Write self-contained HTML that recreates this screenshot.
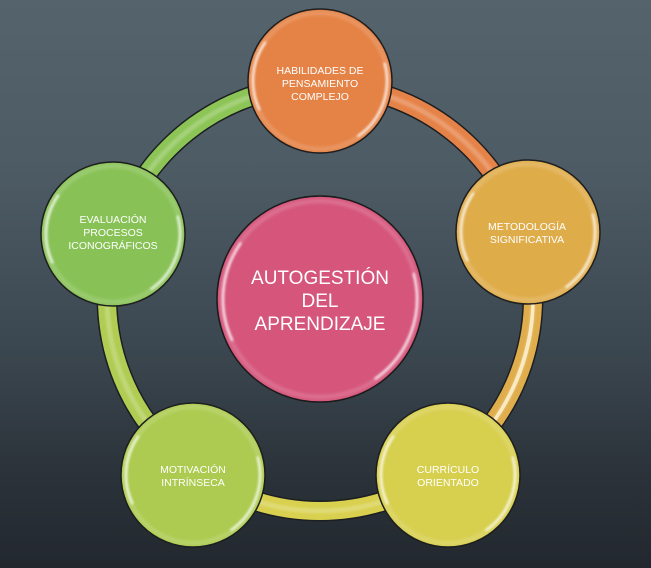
<!DOCTYPE html>
<html><head><meta charset="utf-8"><style>
html,body{margin:0;padding:0;}
body{width:651px;height:568px;overflow:hidden;background:linear-gradient(to bottom,#55636d 0%,#4d5b65 30%,#3c4851 60%,#2a3138 85%,#22282e 100%);}
svg{display:block;}
text{font-family:"Liberation Sans",sans-serif;fill:#fff;text-anchor:middle;}
.s{font-size:10.5px;}
.c{font-size:19px;}
</style></head><body>
<svg width="651" height="568" viewBox="0 0 651 568" xmlns="http://www.w3.org/2000/svg">
<defs>
<filter id="b1" x="-20%" y="-20%" width="140%" height="140%"><feGaussianBlur stdDeviation="1"/></filter>
<filter id="b2" x="-20%" y="-20%" width="140%" height="140%"><feGaussianBlur stdDeviation="1.6"/></filter>
</defs>
<!-- ring outline -->
<g fill="none" stroke="#1c1f22" stroke-width="21">
<circle cx="320" cy="298" r="213"/>
</g>
<!-- ring segments -->
<g fill="none" stroke-width="18">
<path d="M320,85 A213,213 0 0 1 522.6,232.2" stroke="#e58247"/>
<path d="M522.6,232.2 A213,213 0 0 1 445.2,470.3" stroke="#e0ad4c"/>
<path d="M445.2,470.3 A213,213 0 0 1 194.8,470.3" stroke="#d8d04e"/>
<path d="M194.8,470.3 A213,213 0 0 1 117.4,232.2" stroke="#b0cc52"/>
<path d="M117.4,232.2 A213,213 0 0 1 320,85" stroke="#8cc456"/>
</g>
<g fill="none" stroke="#fff" stroke-width="5" opacity="0.22" filter="url(#b1)">
<circle cx="320" cy="298" r="213"/>
</g>
<g fill="none" stroke="#fff6d8" stroke-width="2" opacity="0.8">
<path d="M522.6,232.2 A217,217 0 0 1 445.2,470.3" transform="translate(0,0)"/>
<path d="M522.6,232.2 A209,209 0 0 1 445.2,470.3"/>
</g>
<!-- circles -->
<g stroke="#1a1a1a" stroke-width="1.5">
<circle cx="320" cy="81" r="72" fill="#e58245"/>
<circle cx="528" cy="232" r="72" fill="#dfac4a"/>
<circle cx="448" cy="475" r="72" fill="#d7cf4e"/>
<circle cx="193" cy="475" r="72" fill="#accb50"/>
<circle cx="113" cy="234" r="72" fill="#88c256"/>
<circle cx="320" cy="299" r="103" fill="#d5557b"/>
</g>
<!-- soft rim -->
<g fill="none" stroke="#fff" stroke-width="4" opacity="0.18" filter="url(#b2)">
<circle cx="320" cy="81" r="68"/>
<circle cx="528" cy="232" r="68"/>
<circle cx="448" cy="475" r="68"/>
<circle cx="193" cy="475" r="68"/>
<circle cx="113" cy="234" r="68"/>
<circle cx="320" cy="299" r="98"/>
</g>
<!-- gloss highlights -->
<g fill="none" stroke="#fff" stroke-width="2.5" opacity="0.75" filter="url(#b1)" stroke-linecap="round">
<path d="M259.3,109.3 A67,67 0 0 1 265.1,42.6"/><path d="M384.7,63.7 A67,67 0 0 1 358.4,135.9"/>
<path d="M467.3,260.3 A67,67 0 0 1 473.1,193.6"/><path d="M592.7,214.7 A67,67 0 0 1 566.4,286.9"/>
<path d="M387.3,503.3 A67,67 0 0 1 393.1,436.6"/><path d="M512.7,457.7 A67,67 0 0 1 486.4,529.9"/>
<path d="M132.3,503.3 A67,67 0 0 1 138.1,436.6"/><path d="M257.7,457.7 A67,67 0 0 1 231.4,529.9"/>
<path d="M52.3,262.3 A67,67 0 0 1 58.1,195.6"/><path d="M177.7,216.7 A67,67 0 0 1 151.4,288.9"/>
<path d="M232.1,340 A97,97 0 0 1 240.5,243.4"/><path d="M413.7,273.9 A97,97 0 0 1 375.6,378.5"/>
</g>
<!-- labels -->
<text class="s" x="320" y="74">HABILIDADES DE</text>
<text class="s" x="320" y="87">PENSAMIENTO</text>
<text class="s" x="320" y="100">COMPLEJO</text>

<text class="s" x="527" y="230">METODOLOGÍA</text>
<text class="s" x="527" y="243">SIGNIFICATIVA</text>

<text class="s" x="448" y="473">CURRÍCULO</text>
<text class="s" x="448" y="486">ORIENTADO</text>

<text class="s" x="193" y="473">MOTIVACIÓN</text>
<text class="s" x="193" y="486">INTRÍNSECA</text>

<text class="s" x="113" y="223">EVALUACIÓN</text>
<text class="s" x="113" y="236">PROCESOS</text>
<text class="s" x="113" y="249">ICONOGRÁFICOS</text>

<text class="c" x="320" y="284">AUTOGESTIÓN</text>
<text class="c" x="320" y="307">DEL</text>
<text class="c" x="320" y="330">APRENDIZAJE</text>
</svg>
</body></html>
